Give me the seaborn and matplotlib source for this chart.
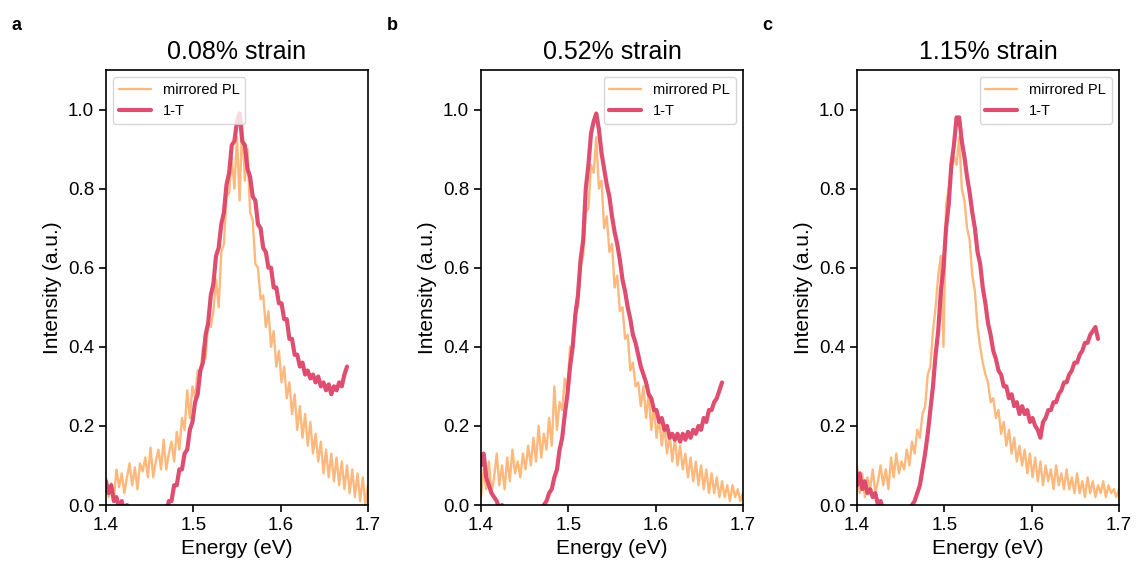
import numpy as np
import pandas as pd
import matplotlib
matplotlib.use("Agg")
import matplotlib.pyplot as plt
import seaborn as sns

# ---------------- data ----------------
titles = ["0.08% strain", "0.52% strain", "1.15% strain"]
panel_letters = ["a", "b", "c"]
series_names = ["mirrored PL", "1-T"]

# energy grids (eV), step 3 meV: PL 1.400-1.700, 1-T 1.400-1.676
energy_pl = np.linspace(1.400, 1.700, 101)
energy_t = np.linspace(1.400, 1.676, 93)

pl_a = [0.07, 0.02, 0.055, 0.015, 0.09, 0.045, 0.08, 0.03, 0.07, 0.105,
        0.05, 0.095, 0.04, 0.105, 0.085, 0.12, 0.07, 0.145, 0.07, 0.11,
        0.14, 0.09, 0.165, 0.09, 0.13, 0.16, 0.11, 0.185, 0.14, 0.22,
        0.19, 0.29, 0.22, 0.30, 0.27, 0.34, 0.33, 0.40, 0.37, 0.46,
        0.45, 0.49, 0.57, 0.50, 0.64, 0.66, 0.78, 0.79, 0.88, 0.80,
        0.93, 0.77, 0.97, 0.82, 0.90, 0.74, 0.72, 0.61, 0.60, 0.52,
        0.53, 0.45, 0.49, 0.40, 0.44, 0.35, 0.39, 0.31, 0.35, 0.27,
        0.31, 0.23, 0.28, 0.19, 0.25, 0.17, 0.23, 0.15, 0.21, 0.13,
        0.18, 0.11, 0.16, 0.08, 0.14, 0.07, 0.13, 0.06, 0.12, 0.05,
        0.11, 0.04, 0.10, 0.03, 0.09, 0.02, 0.08, 0.01, 0.07, 0.00,
        0.05]
t_a = [0.06, 0.03, 0.05, 0.01, 0.02, -0.01, 0.01, -0.02, 0.00, -0.03,
       -0.01, -0.03, -0.02, -0.04, -0.02, -0.03, -0.01, -0.03, -0.02, -0.04,
       -0.02, -0.03, -0.01, -0.02, 0.01, 0.01, 0.05, 0.05, 0.09, 0.09,
       0.13, 0.14, 0.19, 0.21, 0.26, 0.28, 0.34, 0.36, 0.43, 0.46,
       0.53, 0.56, 0.63, 0.65, 0.71, 0.74, 0.81, 0.84, 0.91, 0.92,
       0.97, 0.99, 0.92, 0.91, 0.85, 0.83, 0.78, 0.77, 0.71, 0.70,
       0.65, 0.64, 0.60, 0.60, 0.55, 0.55, 0.51, 0.51, 0.47, 0.47,
       0.42, 0.42, 0.38, 0.38, 0.35, 0.36, 0.33, 0.34, 0.32, 0.33,
       0.31, 0.325, 0.30, 0.31, 0.29, 0.305, 0.28, 0.30, 0.29, 0.31,
       0.30, 0.33, 0.35]

pl_b = [0.02, 0.09, 0.04, 0.11, 0.03, 0.07, 0.13, 0.05, 0.10, 0.04,
        0.12, 0.06, 0.14, 0.08, 0.11, 0.07, 0.13, 0.09, 0.15, 0.10,
        0.17, 0.11, 0.20, 0.12, 0.18, 0.14, 0.22, 0.15, 0.30, 0.19,
        0.26, 0.24, 0.32, 0.29, 0.40, 0.40, 0.50, 0.50, 0.60, 0.63,
        0.74, 0.75, 0.86, 0.84, 0.93, 0.80, 0.82, 0.70, 0.73, 0.64,
        0.66, 0.55, 0.58, 0.49, 0.50, 0.42, 0.43, 0.34, 0.36, 0.30,
        0.31, 0.25, 0.30, 0.22, 0.28, 0.19, 0.25, 0.17, 0.22, 0.15,
        0.20, 0.13, 0.18, 0.11, 0.17, 0.10, 0.15, 0.09, 0.13, 0.07,
        0.12, 0.06, 0.11, 0.05, 0.10, 0.04, 0.09, 0.03, 0.08, 0.03,
        0.07, 0.02, 0.06, 0.02, 0.05, 0.01, 0.05, 0.02, 0.04, 0.01,
        0.03]
t_b = [0.10, 0.13, 0.07, 0.05, 0.03, 0.02, 0.01, -0.01, 0.00, -0.02,
       -0.03, -0.02, -0.04, -0.03, -0.05, -0.02, -0.04, -0.03, -0.02, -0.04,
       -0.03, -0.02, -0.03, -0.01, 0.00, 0.01, 0.03, 0.04, 0.07, 0.09,
       0.14, 0.17, 0.23, 0.28, 0.35, 0.40, 0.48, 0.53, 0.62, 0.67,
       0.80, 0.86, 0.94, 0.97, 0.99, 0.95, 0.89, 0.85, 0.81, 0.78,
       0.73, 0.69, 0.66, 0.62, 0.57, 0.54, 0.50, 0.47, 0.43, 0.41,
       0.38, 0.35, 0.33, 0.31, 0.28, 0.27, 0.24, 0.24, 0.21, 0.22,
       0.19, 0.20, 0.17, 0.18, 0.165, 0.18, 0.16, 0.18, 0.165, 0.185,
       0.17, 0.19, 0.18, 0.20, 0.19, 0.22, 0.21, 0.24, 0.24, 0.26,
       0.27, 0.29, 0.31]

pl_c = [0.10, 0.03, 0.08, 0.02, 0.07, 0.04, 0.09, 0.03, 0.06, 0.10,
        0.05, 0.09, 0.04, 0.12, 0.07, 0.13, 0.08, 0.11, 0.09, 0.14,
        0.10, 0.16, 0.13, 0.19, 0.17, 0.23, 0.25, 0.33, 0.35, 0.44,
        0.50, 0.58, 0.63, 0.40, 0.76, 0.80, 0.84, 0.88, 0.86, 0.93,
        0.80, 0.77, 0.70, 0.67, 0.58, 0.54, 0.45, 0.40, 0.36, 0.33,
        0.31, 0.26, 0.27, 0.22, 0.24, 0.18, 0.21, 0.15, 0.19, 0.13,
        0.17, 0.11, 0.15, 0.10, 0.14, 0.08, 0.13, 0.07, 0.12, 0.06,
        0.11, 0.05, 0.10, 0.06, 0.09, 0.04, 0.10, 0.05, 0.08, 0.04,
        0.09, 0.04, 0.07, 0.03, 0.08, 0.03, 0.06, 0.02, 0.07, 0.03,
        0.06, 0.02, 0.05, 0.03, 0.06, 0.02, 0.05, 0.03, 0.04, 0.02,
        0.04]
t_c = [0.05, 0.08, 0.04, 0.06, 0.03, 0.04, 0.02, 0.03, 0.00, 0.01,
       -0.01, -0.02, -0.03, -0.02, -0.04, -0.03, -0.02, -0.03, -0.02, -0.01,
       -0.01, 0.00, 0.01, 0.03, 0.05, 0.09, 0.13, 0.18, 0.24, 0.30,
       0.38, 0.44, 0.54, 0.60, 0.70, 0.76, 0.86, 0.91, 0.98, 0.98,
       0.92, 0.88, 0.83, 0.79, 0.74, 0.70, 0.64, 0.61, 0.55, 0.51,
       0.46, 0.43, 0.39, 0.37, 0.34, 0.33, 0.30, 0.30, 0.27, 0.28,
       0.25, 0.26, 0.23, 0.25, 0.23, 0.24, 0.21, 0.22, 0.20, 0.19,
       0.17, 0.21, 0.22, 0.24, 0.24, 0.26, 0.26, 0.28, 0.29, 0.31,
       0.31, 0.33, 0.34, 0.36, 0.36, 0.38, 0.39, 0.41, 0.41, 0.43,
       0.44, 0.45, 0.42]

pl_series = [pl_a, pl_b, pl_c]
t_series = [t_a, t_b, t_c]
legend_locs = ["upper left", "upper right", "upper right"]

x_ticks = [1.4, 1.5, 1.6, 1.7]
y_ticks = [0.0, 0.2, 0.4, 0.6, 0.8, 1.0]

for s in pl_series:
    assert len(s) == len(energy_pl), len(s)
for s in t_series:
    assert len(s) == len(energy_t), len(s)

# ---------------- style ----------------
sns.set_style("ticks")
plt.rcParams["font.family"] = ["Liberation Sans", "DejaVu Sans"]
plt.rcParams.update({
    "text.color": "black", "axes.labelcolor": "black",
    "xtick.color": "black", "ytick.color": "black",
    "axes.edgecolor": "black",
})

color_pl = "#fdb97d"
color_t = "#dc4468"

fig = plt.figure(figsize=(11.38, 5.73), dpi=100)
lefts = [106 / 1138, 481 / 1138, 857 / 1138]
width = 262 / 1138
bottom = (573 - 505) / 573
height = 435 / 573
letter_x = [12 / 1138, 387 / 1138, 762 / 1138]

for i in range(3):
    ax = fig.add_axes([lefts[i], bottom, width, height])
    df_pl = pd.DataFrame({"Energy": energy_pl, "Intensity": pl_series[i]})
    df_t = pd.DataFrame({"Energy": energy_t, "Intensity": t_series[i]})
    sns.lineplot(data=df_pl, x="Energy", y="Intensity", ax=ax, color=color_pl,
                 linewidth=1.7, label=series_names[0], estimator=None, sort=False)
    sns.lineplot(data=df_t, x="Energy", y="Intensity", ax=ax, color=color_t,
                 linewidth=3.0, alpha=0.95, label=series_names[1],
                 estimator=None, sort=False)
    ax.set_xlim(1.4, 1.7)
    ax.set_ylim(0, 1.1)
    ax.set_xticks(x_ticks)
    ax.set_yticks(y_ticks)
    ax.set_xticklabels([f"{v:.1f}" for v in x_ticks])
    ax.set_yticklabels([f"{v:.1f}" for v in y_ticks])
    ax.tick_params(labelsize=13.5, width=1.2, length=5, colors="black")
    for s in ax.spines.values():
        s.set_visible(True)
        s.set_linewidth(1.2)
        s.set_color("black")
    ax.set_xlabel("Energy (eV)", fontsize=15)
    ax.set_ylabel("Intensity (a.u.)", fontsize=15)
    ax.set_title(titles[i], fontsize=18, pad=8)
    ax.legend(loc=legend_locs[i], fontsize=10.5, frameon=True,
              handlelength=2.2, borderaxespad=0.5)
    fig.text(letter_x[i], 1 - 25 / 573, panel_letters[i], fontsize=13,
             fontweight="bold", va="center", ha="left")

fig.savefig("out.png", dpi=100)
